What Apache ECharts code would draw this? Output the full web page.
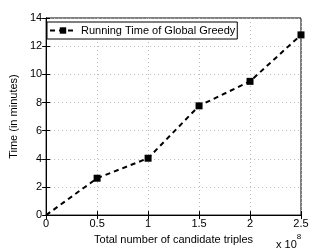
<!DOCTYPE html>
<html><head><meta charset="utf-8">
<script src="https://cdn.jsdelivr.net/npm/echarts@6/dist/echarts.min.js"></script>
<style>html,body{margin:0;padding:0;background:#fff}#c{width:332px;height:250px}</style>
</head><body><div id="c"></div>
<script>
const xValues = [0, 0.5, 1, 1.5, 2, 2.5];
const timeMinutes = [0, 2.62, 4.04, 7.76, 9.5, 12.8];
const seriesName = 'Running Time of Global Greedy';
const xTitle = 'Total number of candidate triples';
const yTitle = 'Time (in minutes)';

const F = 'Liberation Sans, Arial, sans-serif';
const chart = echarts.init(document.getElementById('c'), null, {renderer: 'canvas'});
const gridLine = {show: true, lineStyle: {color: '#bbb', type: [1, 3], width: 1}};
chart.setOption({
  animation: false,
  backgroundColor: '#fff',
  grid: {left: 43, right: 31, top: 18, bottom: 30, show: true, borderColor: '#000', borderWidth: 1, backgroundColor: 'transparent'},
  legend: {
    data: [seriesName], left: 47, top: 22, orient: 'vertical',
    borderColor: '#000', borderWidth: 1, backgroundColor: '#fff', padding: [3, 2, 3, 2],
    itemWidth: 26, itemHeight: 8, itemGap: 2,
    textStyle: {fontFamily: F, fontSize: 11, color: '#000'}
  },
  xAxis: [{
    type: 'value', min: 0, max: 2.5, interval: 0.5,
    axisLine: {show: true, lineStyle: {color: '#000'}},
    axisTick: {show: true, inside: true, length: 4, lineStyle: {color: '#000'}},
    axisLabel: {fontFamily: F, fontSize: 11, color: '#000', margin: 3},
    splitLine: gridLine,
    name: xTitle, nameLocation: 'middle', nameGap: 15,
    nameTextStyle: {fontFamily: F, fontSize: 11, color: '#000'}
  }, {
    type: 'value', position: 'top', min: 0, max: 2.5, interval: 0.5,
    axisLine: {show: true, lineStyle: {color: '#000'}},
    axisTick: {show: true, inside: true, length: 4, lineStyle: {color: '#000'}},
    axisLabel: {show: false}, splitLine: {show: false}
  }],
  yAxis: [{
    type: 'value', min: 0, max: 14, interval: 2,
    axisLine: {show: true, lineStyle: {color: '#000'}},
    axisTick: {show: true, inside: true, length: 4, lineStyle: {color: '#000'}},
    axisLabel: {fontFamily: F, fontSize: 11, color: '#000', margin: 4},
    splitLine: gridLine,
    name: yTitle, nameLocation: 'middle', nameGap: 18,
    nameTextStyle: {fontFamily: F, fontSize: 11, color: '#000'}
  }, {
    type: 'value', position: 'right', min: 0, max: 14, interval: 2,
    axisLine: {show: true, lineStyle: {color: '#000'}},
    axisTick: {show: true, inside: true, length: 4, lineStyle: {color: '#000'}},
    axisLabel: {show: false}, splitLine: {show: false}
  }],
  graphic: [{
    type: 'text', left: 276, top: 233,
    style: {
      text: '{a|x 10}{b|8}', fill: '#000',
      rich: {a: {fontFamily: F, fontSize: 11, padding: [6, 0, 0, 0]}, b: {fontFamily: F, fontSize: 8, verticalAlign: 'top'}}
    }
  }],
  series: [{
    name: seriesName, type: 'line',
    data: xValues.map((x, i) => i === 0 ? {value: [x, timeMinutes[i]], symbol: 'none'} : [x, timeMinutes[i]]),
    symbol: 'rect', symbolSize: 7, showSymbol: true,
    lineStyle: {color: '#000', width: 2, type: [5, 4]},
    itemStyle: {color: '#000'},
    clip: false
  }]
});
</script></body></html>
